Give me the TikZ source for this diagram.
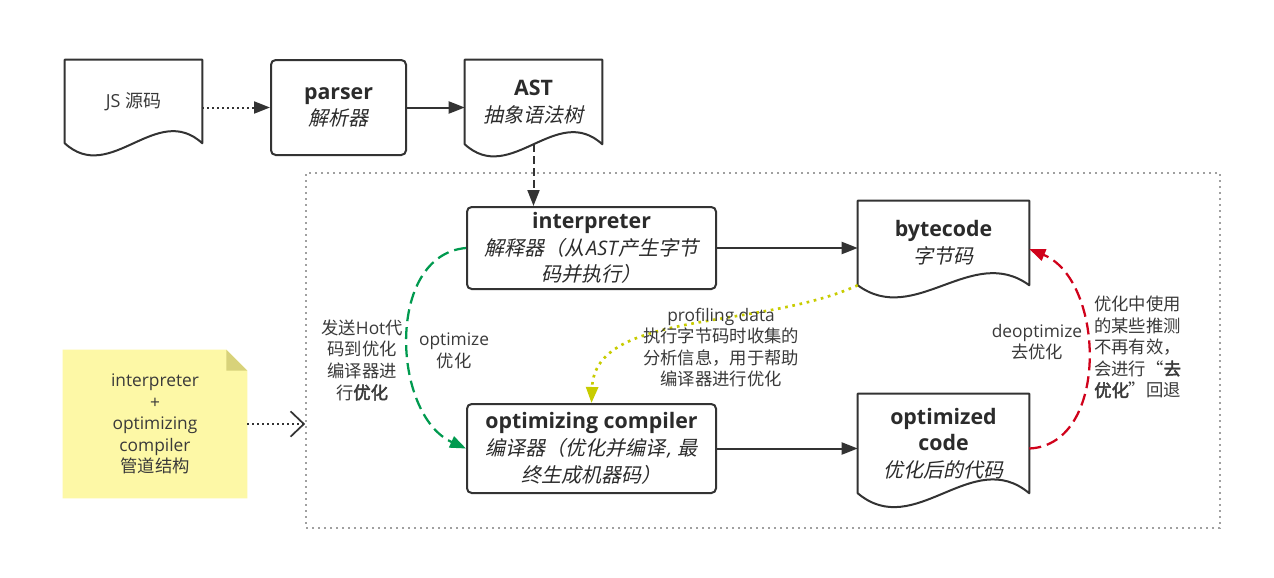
\documentclass[tikz,border=0pt]{standalone}
\usepackage{fontspec}
\setmainfont{Open Sans}
\newfontfamily\cjkf{Noto Sans CJK SC}[ItalicFont={Noto Sans CJK SC}, ItalicFeatures={FakeSlant=0.22}, BoldFont={Noto Sans CJK SC}, BoldFeatures={FakeBold=2.5}]
\newcommand\zh[1]{{\cjkf #1}}
\newcommand\ttl[1]{{\upshape\bfseries\fontsize{16}{20}\selectfont #1}}
\usetikzlibrary{arrows.meta,calc,backgrounds}
\definecolor{lncol}{HTML}{333333}
\definecolor{txt}{HTML}{2B2B2B}
\definecolor{lbltxt}{HTML}{3A3A3A}
\definecolor{grn}{HTML}{009A4F}
\definecolor{rd}{HTML}{D0021B}
\definecolor{yel}{HTML}{C8CC00}
\definecolor{notefill}{HTML}{FDF8A6}
\definecolor{notefold}{HTML}{D8D27A}
\definecolor{frame}{HTML}{A0A0A0}
\newcommand\drawdoc[2]{\draw[docdraw] (#1.south west) -- (#1.north west) -- (#1.north east) -- (#1.south east)
  .. controls ($(#1.south east)!0.3333!(#1.south west)+(0,-#2)$) and ($(#1.south east)!0.6667!(#1.south west)+(0,#2)$) .. (#1.south west) -- cycle;}
\begin{document}
\begin{tikzpicture}[x=0.75pt,y=-0.75pt,
  boxr/.style={draw=lncol, line width=1.5pt, rounded corners=3.5pt, inner sep=0pt, align=center, text=txt, font=\fontsize{15}{20}\selectfont\itshape},
  docn/.style={inner sep=0pt, align=center, text=txt, font=\fontsize{15}{20}\selectfont\itshape},
  docdraw/.style={draw=lncol, line width=1.5pt, line join=round},
  lbl/.style={inner sep=0pt, align=center, text=lbltxt, font=\fontsize{13}{16.2}\selectfont},
  arr/.style={draw=lncol, line width=1.5pt, -{Triangle[length=12pt,width=9pt]}},
  dotarr/.style={arr, dash pattern=on 1.5pt off 2.25pt},
  dasharr/.style={arr, dash pattern=on 6pt off 3pt},
  greenarr/.style={draw=grn, line width=1.7pt, dash pattern=on 9pt off 4.5pt, -{Triangle[length=12pt,width=9pt]}},
  redarr/.style={draw=rd, line width=1.7pt, dash pattern=on 9pt off 4.5pt, -{Triangle[length=12pt,width=9pt]}},
  yelarr/.style={draw=yel, line width=2pt, dash pattern=on 2pt off 3.5pt, -{Triangle[length=12pt,width=9pt]}},
  notearr/.style={draw=lncol, line width=1.5pt, dash pattern=on 1.5pt off 2.25pt, -{Straight Barb[length=10pt,width=19pt,line width=1.3pt]}},
  framebox/.style={draw=frame, line width=1.3pt, dash pattern=on 1.5pt off 3pt, inner sep=0pt}
]
\useasboundingbox (0,0) rectangle (1274,578);

% container
\node[framebox, minimum width={914*0.75pt}, minimum height={355*0.75pt}] (pipe) at (763,350.5) {};

% top row
\node[docn, minimum width={137*0.75pt}, minimum height={83*0.75pt}, text=lbltxt] (js) at (133.5,101.5) {\upshape\fontsize{13.5}{16}\selectfont\raisebox{-3pt}{JS \zh{源码}}};
\node[boxr, minimum width={135*0.75pt}, minimum height={95*0.75pt}] (parser) at (338.5,107.5) {\ttl{parser}\\\zh{解析器}};
\node[docn, minimum width={137*0.75pt}, minimum height={84*0.75pt}] (ast) at (533.5,102) {\ttl{AST}\\\zh{抽象语法树}};

% inner nodes
\node[boxr, minimum width={249*0.75pt}, minimum height={82*0.75pt}] (interp) at (591.5,248) {\ttl{interpreter}\\\zh{解释器（从}\kern1.5pt AST\kern1pt\zh{产生字节}\\\zh{码并执行）}};
\node[docn, minimum width={171*0.75pt}, minimum height={84*0.75pt}] (bc) at (943.5,243) {\ttl{bytecode}\\\zh{字节码}};
\node[boxr, minimum width={249*0.75pt}, minimum height={89*0.75pt}] (comp) at (591.5,448.5) {\ttl{optimizing compiler}\\\zh{编译器（优化并编译}\kern1.5pt, \zh{最}\\\zh{终生成机器码）}};
\node[docn, minimum width={171*0.75pt}, minimum height={99*0.75pt}] (oc) at (943.5,443.5) {\ttl{optimized}\\\ttl{code}\\\zh{优化后的代码}};

\drawdoc{js}{42}
\drawdoc{ast}{42}
\drawdoc{bc}{42}
\drawdoc{oc}{48}

% note
\node[lbl, minimum width={184*0.75pt}, minimum height={148*0.75pt}] (note) at (155,424) {interpreter\\+\\optimizing\\compiler\\\zh{管道结构}};
\begin{scope}[on background layer]
\fill[white] (0,0) rectangle (1274,578);
\fill[notefill] (note.north west) -- ($(note.north east)+(-21,0)$) -- ($(note.north east)+(0,21)$) -- (note.south east) -- (note.south west) -- cycle;
\fill[notefold] ($(note.north east)+(-21,0)$) -- ($(note.north east)+(-21,21)$) -- ($(note.north east)+(0,21)$) -- cycle;
\end{scope}

% connectors
\draw[dotarr] (parser.west -| js.east) -- (parser.west);
\draw[arr] (parser.east) -- (parser.east -| ast.west);
\draw[dasharr] (ast.south) -- (ast.south |- interp.north);
\draw[arr] (interp.east) -- (interp.east -| bc.west);
\draw[arr] (comp.east) -- (comp.east -| oc.west);
\draw[greenarr] (interp.west) .. controls (385,255) and (392,415) .. (comp.west);
\draw[redarr] ($(oc.east)+(0,5)$) .. controls (1110,445) and (1105,280) .. ($(bc.east)+(0,6)$);
\draw[yelarr] (bc.south west) .. controls (760,330) and (595,310) .. (comp.north);
\draw[notearr] (note.east) -- (note.east -| pipe.west);

% labels
\node[lbl] (l1) at (362,360) {\zh{发送}Hot\zh{代}\\\zh{码到优化}\\\zh{编译器进}\\\zh{行\textbf{优化}}};
\node[lbl] (l2) at (454,351) {optimize\\\zh{优化}};
\node[lbl] (l3) at (721,347.5) {profiling data\\\zh{执行字节码时收集的}\\\zh{分析信息，用于帮助}\\\zh{编译器进行优化}};
\node[lbl] (l4) at (1037,342) {deoptimize\\\zh{去优化}};
\node[lbl, align=left, anchor=west] (l5) at (1094,347) {\zh{优化中使用}\\\zh{的某些推测}\\\zh{不再有效，}\\\zh{会进行“\textbf{去}}\\\zh{\textbf{优化}”回退}};
\end{tikzpicture}
\end{document}
